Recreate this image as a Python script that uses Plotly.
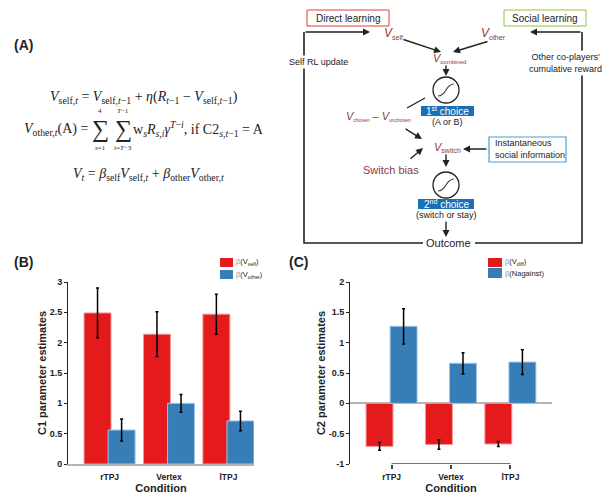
import plotly.graph_objects as go

# ---------------- data ----------------
conditions = ["rTPJ", "Vertex", "lTPJ"]
cond_labels = ["rTPJ", "Vertex", "lTPJ"]

# Panel B: C1 parameter estimates
c1_self = [2.49, 2.14, 2.47]
c1_self_err = [0.41, 0.37, 0.33]
c1_other = [0.56, 1.00, 0.71]
c1_other_err = [0.18, 0.145, 0.16]
c1_ticks = [0, 0.5, 1, 1.5, 2, 2.5, 3]
c1_ticktext = ["0", "0.5", "1", "1.5", "2", "2.5", "3"]

# Panel C: C2 parameter estimates
c2_vdiff = [-0.71, -0.68, -0.67]
c2_vdiff_err = [0.065, 0.075, 0.04]
c2_nagainst = [1.27, 0.66, 0.68]
c2_nagainst_err = [0.29, 0.175, 0.205]
c2_ticks = [-1, -0.5, 0, 0.5, 1, 1.5, 2]
c2_ticktext = ["-1", "-0.5", "0", "0.5", "1", "1.5", "2"]

RED = "#e41a1c"
BLUE = "#377eb8"
RED_EDGE = "#f59a9a"
BLUE_EDGE = "#9cc6ea"
DARKRED = "#8b3a3a"
BOXBLUE = "#1b6fb5"
W, H = 608, 494
SANS = "Liberation Sans, Arial, sans-serif"
SERIF = "Liberation Serif, DejaVu Serif, serif"


def X(p):
    return p / W


def Y(p):
    return 1 - p / H


fig = go.Figure()


def add_bars(xa, ya, vals, errs, color, edge, offset):
    fig.add_trace(go.Bar(
        x=conditions, y=vals, xaxis=xa, yaxis=ya,
        offset=offset, width=0.454,
        marker=dict(color=color, line=dict(color=edge, width=1)),
        error_y=dict(type="data", array=errs, color="black", thickness=1.5, width=1.5),
        showlegend=False, hoverinfo="y",
    ))


add_bars("x", "y", c1_self, c1_self_err, RED, RED_EDGE, -0.43)
add_bars("x", "y", c1_other, c1_other_err, BLUE, BLUE_EDGE, -0.025)
add_bars("x2", "y2", c2_vdiff, c2_vdiff_err, RED, RED_EDGE, -0.43)
add_bars("x2", "y2", c2_nagainst, c2_nagainst_err, BLUE, BLUE_EDGE, -0.025)

tickfont = dict(family=SANS, size=9, color="#222")
xtickfont = dict(family=SANS, size=8.5, color="#222")
titlefont = dict(family=SANS, size=11, color="#222")
bold = lambda lst: ["<b>%s</b>" % t for t in lst]

fig.update_layout(
    width=W, height=H, margin=dict(l=0, r=0, t=0, b=0),
    paper_bgcolor="white", plot_bgcolor="white", template="none",
    barmode="overlay", showlegend=False,
    xaxis=dict(domain=[X(68), X(254)], range=[-0.70, 2.43], anchor="y",
               showline=True, linecolor="#b5b5b5", linewidth=1.5, ticks="",
               showgrid=False, zeroline=False, ticklabelstandoff=4,
               tickvals=conditions, ticktext=bold(cond_labels), tickfont=xtickfont,
               title=dict(text="<b>Condition</b>", font=titlefont, standoff=0)),
    yaxis=dict(domain=[Y(464), Y(282)], range=[0, 3], anchor="x",
               showline=True, linecolor="#222", linewidth=1, ticks="outside",
               ticklen=3, tickcolor="#222", showgrid=False, zeroline=False,
               tickvals=c1_ticks, ticktext=bold(c1_ticktext), tickfont=tickfont,
               title=dict(text="<b>C1 parameter estimates</b>", font=titlefont, standoff=0)),
    xaxis2=dict(domain=[X(350), X(552)], range=[-0.70, 2.70], anchor="y2",
                showline=False, ticks="outside", ticklen=4, tickcolor="#444",
                tickwidth=1.5, showgrid=False, zeroline=False, ticklabelstandoff=1,
                tickvals=conditions, ticktext=bold(cond_labels), tickfont=xtickfont,
                title=dict(text="<b>Condition</b>", font=titlefont, standoff=0)),
    yaxis2=dict(domain=[Y(464), Y(282)], range=[-1, 2], anchor="x2",
                showline=True, linecolor="#222", linewidth=1, ticks="outside",
                ticklen=3, tickcolor="#222", showgrid=False,
                zeroline=True, zerolinecolor="#b5b5b5", zerolinewidth=1.5,
                tickvals=c2_ticks, ticktext=bold(c2_ticktext), tickfont=tickfont,
                title=dict(text="<b>C2 parameter estimates</b>", font=titlefont, standoff=0)),
)

shapes = []
annos = []

# bracket x-axis line for panel C (from first to last condition at y=-1)
shapes.append(dict(type="line", xref="x2", yref="y2", x0=conditions[0], x1=conditions[-1],
                   y0=c2_ticks[0], y1=c2_ticks[0], line=dict(color="#444", width=1.5)))


def text(px, py, t, size=10, color="#222", family=SANS, xanchor="center", bg=None, align="center"):
    d = dict(x=X(px), y=Y(py), xref="paper", yref="paper", text=t, showarrow=False,
             font=dict(family=family, size=size, color=color), xanchor=xanchor,
             yanchor="middle", align=align)
    if bg:
        d["bgcolor"] = bg
    annos.append(d)


def arrow(tx, ty, hx, hy):
    annos.append(dict(x=X(hx), y=Y(hy), ax=tx - hx, ay=ty - hy, xref="paper", yref="paper",
                      axref="pixel", ayref="pixel", text="", showarrow=True, arrowhead=2,
                      arrowsize=1, arrowwidth=1.4, arrowcolor="#222"))


def line(x0, y0, x1, y1, color="#222", width=1.4):
    shapes.append(dict(type="line", xref="paper", yref="paper", x0=X(x0), y0=Y(y0),
                       x1=X(x1), y1=Y(y1), line=dict(color=color, width=width)))


def rect(x0, y0, x1, y1, color, fill="white", width=1):
    shapes.append(dict(type="rect", xref="paper", yref="paper", x0=X(x0), y0=Y(y1),
                       x1=X(x1), y1=Y(y0), line=dict(color=color, width=width), fillcolor=fill))


def sigmoid(cx, cy, r=13):
    shapes.append(dict(type="circle", xref="paper", yref="paper", x0=X(cx - r), x1=X(cx + r),
                       y0=Y(cy + r), y1=Y(cy - r), line=dict(color="#222", width=1.3)))
    x1, y1, x2, y2 = cx - 8, cy + 6, cx + 8, cy - 6
    path = "M %f,%f C %f,%f %f,%f %f,%f" % (X(x1), Y(y1), X(x1 + 9), Y(y1), X(x2 - 9), Y(y2), X(x2), Y(y2))
    shapes.append(dict(type="path", xref="paper", yref="paper", path=path,
                       line=dict(color="#444", width=1.2)))


def vlab(name, vsize=12, ssize=7):
    return "<i>V</i><sub><span style='font-size:%dpx'>%s</span></sub>" % (ssize, name)


# panel labels
text(12, 45, "<b>(A)</b>", size=14, xanchor="left")
text(12, 262, "<b>(B)</b>", size=14, xanchor="left")
text(287, 262, "<b>(C)</b>", size=14, xanchor="left")

# ---------- equations (panel A) ----------
EQ = 14
text(144, 97, "<i>V</i><sub>self,<i>t</i></sub> = <i>V</i><sub>self,<i>t</i>−1</sub> + <i>η</i>(<i>R</i><sub><i>t</i>−1</sub> − <i>V</i><sub>self,<i>t</i>−1</sub>)",
     size=EQ, family=SERIF)
# line 2 in pieces
text(90, 129, "<i>V</i><sub>other,<i>t</i></sub>(A) =", size=EQ, family=SERIF, xanchor="right")
text(100, 130, "∑", size=24, family=SERIF)
text(123, 130, "∑", size=24, family=SERIF)
text(100, 111, "4", size=7, family=SERIF)
text(100, 148, "<i>s</i>=1", size=7, family=SERIF)
text(123, 111, "<i>T</i>−1", size=7, family=SERIF)
text(123, 148, "<i>i</i>=<i>T</i>−3", size=7, family=SERIF)
text(131, 129, "w<sub><i>s</i></sub><i>R</i><sub><i>s,i</i></sub><i>γ</i><sup><i>T</i>−<i>i</i></sup>, if C2<sub><i>s,t</i>−1</sub> = A",
     size=EQ, family=SERIF, xanchor="left")
text(148, 175, "<i>V</i><sub><i>t</i></sub> = <i>β</i><sub>self</sub><i>V</i><sub>self,<i>t</i></sub> + <i>β</i><sub>other</sub><i>V</i><sub>other,<i>t</i></sub>",
     size=EQ, family=SERIF)

# ---------- diagram ----------
rect(307, 10, 389, 26, "#e8383d")
text(348, 18, "Direct learning", size=10)
rect(504, 10, 586, 26, "#8cc63f")
text(545, 18, "Social learning", size=10)

# loops
shapes.append(dict(type="path", xref="paper", yref="paper",
                   path="M %f,%f L %f,%f L %f,%f" % (X(423), Y(243), X(304), Y(243), X(304), Y(32)),
                   line=dict(color="#222", width=1.6)))
shapes.append(dict(type="path", xref="paper", yref="paper",
                   path="M %f,%f L %f,%f L %f,%f" % (X(475), Y(243), X(582), Y(243), X(582), Y(32)),
                   line=dict(color="#222", width=1.6)))
arrow(304, 32, 370, 32)
arrow(582, 32, 530, 32)
text(318, 62, "Self RL update", size=9, bg="white")
text(565, 63, "Other co-players'<br>cumulative reward", size=9, bg="white")

text(393, 33, vlab("self", ssize=7), size=12, color=DARKRED)
text(493, 33, vlab("other", ssize=7), size=12, color=DARKRED)
text(449, 59, vlab("combined", ssize=6), size=11, color=DARKRED)
arrow(402, 39, 441, 52)
arrow(489, 41, 453, 52)
arrow(446, 64, 446, 76)
sigmoid(446, 90)
rect(421, 106, 474, 116, BOXBLUE, fill=BOXBLUE, width=0)
text(447, 111, "1<sup>st</sup> choice", size=10, color="white")
text(447, 122, "(A or B)", size=9)
line(425, 98, 407, 108)
text(378, 117, vlab("chosen", ssize=5) + " – " + vlab("unchosen", ssize=5), size=11, color=DARKRED)
arrow(404, 128, 422, 139)
arrow(409, 160, 423, 148)
text(391, 170, "Switch bias", size=11, color=DARKRED)
text(447, 148, vlab("switch", ssize=7), size=11, color=DARKRED)
rect(489, 137, 566, 162, "#4a9fd8", width=1.2)
text(493, 149.5, "Instantaneous<br>social information", size=9, xanchor="left", align="left")
arrow(488, 149, 463, 149)
arrow(446, 153, 446, 167)
sigmoid(446, 185)
rect(418, 199, 474, 209, BOXBLUE, fill=BOXBLUE, width=0)
text(446, 204, "2<sup>nd</sup> choice", size=10, color="white")
text(446, 215, "(switch or stay)", size=9)
arrow(446, 220, 446, 237)
text(448, 243, "Outcome", size=11)

# ---------- legends ----------
rect(220, 258, 233, 267, RED, fill=RED, width=0)
rect(220, 270, 233, 279, BLUE, fill=BLUE, width=0)
text(234, 262, "<span style='color:#999'>β</span>(V<sub>self</sub>)", size=7.5, xanchor="left")
text(234, 275, "<span style='color:#999'>β</span>(V<sub>other</sub>)", size=7.5, xanchor="left")
rect(488, 258, 502, 267, RED, fill=RED, width=0)
rect(488, 268, 502, 278, BLUE, fill=BLUE, width=0)
text(503, 262, "<span style='color:#999'>β</span>(V<sub>diff</sub>)", size=7.5, xanchor="left")
text(503, 273, "<span style='color:#999'>β</span>(Nagainst)", size=7.5, xanchor="left")

fig.update_layout(shapes=shapes, annotations=annos)
fig.write_html("out.html", config={"displayModeBar": False},
               post_script="document.body.style.margin='0';document.body.style.overflow='hidden';")
